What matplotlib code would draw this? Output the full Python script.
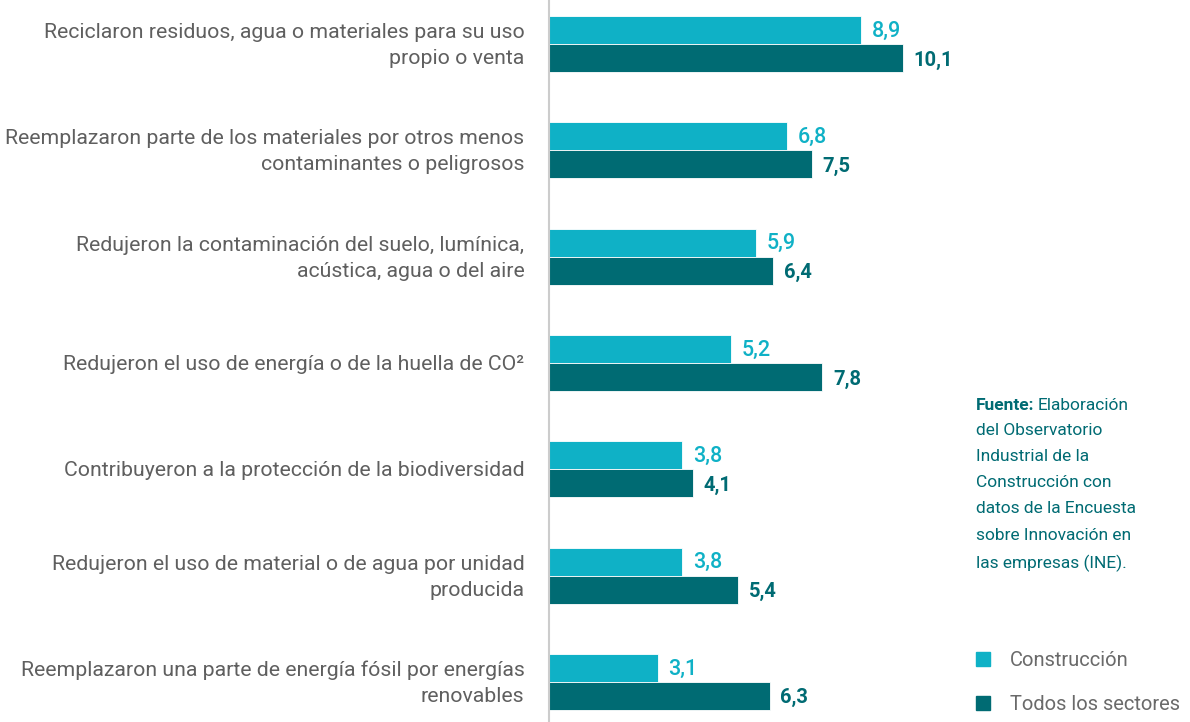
import matplotlib.pyplot as plt
import matplotlib.patches as mpatches

plt.rcParams['font.family'] = ['Roboto', 'DejaVu Sans']

categorias = [
    "Reciclaron residuos, agua o materiales para su uso\npropio o venta",
    "Reemplazaron parte de los materiales por otros menos\ncontaminantes o peligrosos",
    "Redujeron la contaminación del suelo, lumínica,\nacústica, agua o del aire",
    "Redujeron el uso de energía o de la huella de CO²",
    "Contribuyeron a la protección de la biodiversidad",
    "Redujeron el uso de material o de agua por unidad\nproducida",
    "Reemplazaron una parte de energía fósil por energías\nrenovables",
]
construccion = [8.9, 6.8, 5.9, 5.2, 3.8, 3.8, 3.1]
todos = [10.1, 7.5, 6.4, 7.8, 4.1, 5.4, 6.3]

c_light = '#0fb1c6'
c_dark = '#006b73'
c_text = '#5f5f5f'

fig = plt.figure(figsize=(11.9, 7.22), dpi=100)
ax = fig.add_axes([549 / 1190, 0, 411 / 1190, 1])

h = 0.2634
y = list(range(len(categorias)))
ax.barh([v - h / 2 for v in y], construccion, height=h, color=c_light, edgecolor='white', linewidth=0.6)
ax.barh([v + h / 2 for v in y], todos, height=h, color=c_dark, edgecolor='white', linewidth=0.6)

ax.set_xlim(0, 411 / 35.05)
ax.set_ylim(6.378, -0.414)

for i in y:
    ax.text(construccion[i] + 0.3, i - h / 2 + 0.01, f"{construccion[i]:.1f}".replace('.', ','),
            color=c_light, fontsize=15.5, fontweight='medium', va='center', ha='left')
    ax.text(todos[i] + 0.3, i + h / 2 + 0.02, f"{todos[i]:.1f}".replace('.', ','),
            color=c_dark, fontsize=14.5, fontweight='bold', va='center', ha='left')
    ax.text(-0.7, i + 0.015, categorias[i], color=c_text, fontsize=15.3,
            ha='right', va='center', linespacing=1.47)

ax.set_xticks([])
ax.set_yticks([])
for s in ['top', 'right', 'bottom']:
    ax.spines[s].set_visible(False)
ax.spines['left'].set_color('#cccccc')
ax.spines['left'].set_linewidth(1.5)

# fuente
fig.text(976 / 1190, 1 - 405 / 722, "Fuente:", fontsize=12.5, fontweight='bold',
         color=c_dark, va='center', ha='left')
fig.text(1038 / 1190, 1 - 405 / 722, "Elaboración", fontsize=12.5, color=c_dark,
         va='center', ha='left')
fig.text(976 / 1190, 1 - 423 / 722,
         "del Observatorio\nIndustrial de la\nConstrucción con\ndatos de la Encuesta\nsobre Innovación en\nlas empresas (INE).",
         fontsize=12.5, color=c_dark, va='top', ha='left', linespacing=1.93)

# leyenda
handles = [mpatches.Patch(color=c_light, label='Construcción'),
           mpatches.Patch(color=c_dark, label='Todos los sectores')]
fig.legend(handles=handles, loc='lower left', bbox_to_anchor=(958 / 1190, -10 / 722),
           frameon=False, labelcolor='#6a6a6a', handlelength=0.7,
           handleheight=0.7, handletextpad=1.0, labelspacing=1.25,
           prop={'size': 14.5})

fig.savefig('out.png', dpi=100)
